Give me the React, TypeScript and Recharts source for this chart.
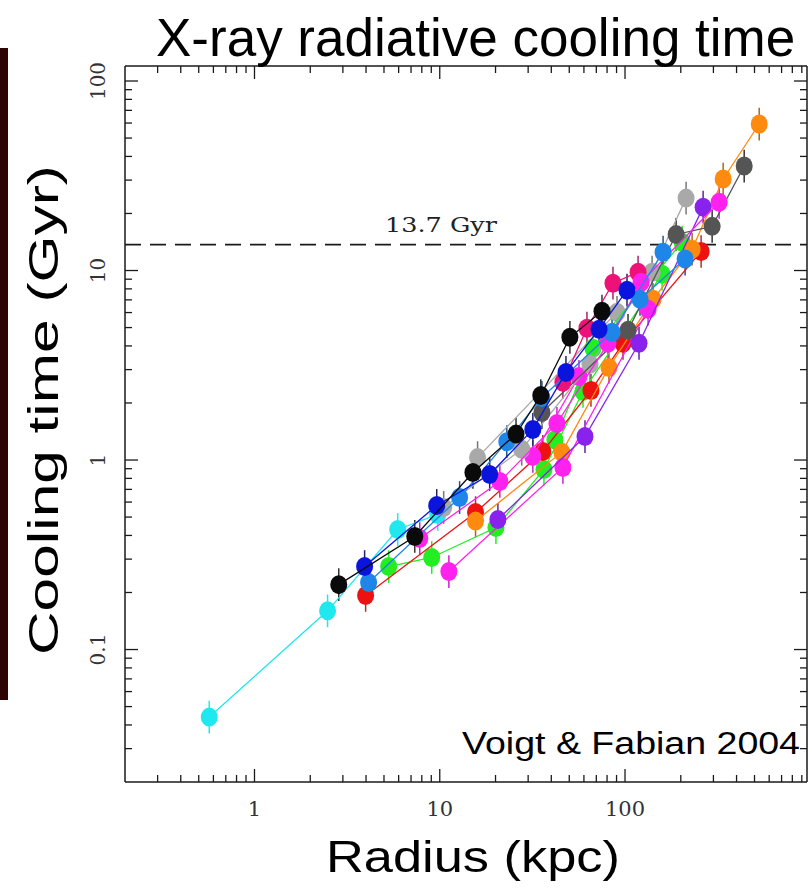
import React from 'react';
import { ScatterChart, Scatter, XAxis, YAxis, ReferenceLine, ErrorBar } from 'recharts';

// ---- axis ticks ----
const xMajorTicks = [1, 10, 100];
const xMinorTicks = [0.3, 0.4, 0.5, 0.6, 0.7, 0.8, 0.9, 2, 3, 4, 5, 6, 7, 8, 9, 20, 30, 40, 50, 60, 70, 80, 90, 200, 300, 400, 500, 600, 700, 800, 900];
const yMajorTicks = [0.1, 1, 10, 100];
const yMinorTicks = [0.03, 0.04, 0.05, 0.06, 0.07, 0.08, 0.09, 0.2, 0.3, 0.4, 0.5, 0.6, 0.7, 0.8, 0.9, 2, 3, 4, 5, 6, 7, 8, 9, 20, 30, 40, 50, 60, 70, 80, 90];
const xTickLabels = ['1', '10', '100'];
const yTickLabels = ['0.1', '1', '10', '100'];
const ageOfUniverse = 13.7;

// ---- data (radius kpc, cooling time Gyr) ----
const cyanPts = [{ r: 0.57, t: 0.044 }, { r: 2.48, t: 0.16 }, { r: 5.93, t: 0.43 }, { r: 9.75, t: 0.516 }];
const blackPts = [{ r: 2.85, t: 0.22 }, { r: 7.33, t: 0.395 }, { r: 15.1, t: 0.86 }, { r: 25.8, t: 1.37 }, { r: 35.1, t: 2.19 }, { r: 50.4, t: 4.44 }, { r: 75.1, t: 6.1 }];
const bluePts = [{ r: 3.93, t: 0.274 }, { r: 9.63, t: 0.576 }, { r: 18.6, t: 0.839 }, { r: 31.8, t: 1.45 }, { r: 48, t: 2.9 }, { r: 72.4, t: 4.9 }, { r: 102.5, t: 7.87 }];
const dodgerPts = [{ r: 4.13, t: 0.226 }, { r: 12.8, t: 0.634 }, { r: 23, t: 1.25 }, { r: 35.6, t: 2.14 }, { r: 85.1, t: 4.72 }, { r: 160.5, t: 12.5 }];
const dodger2Pts = [{ r: 120.5, t: 7.05 }, { r: 211, t: 11.5 }];
const redPts = [{ r: 3.98, t: 0.193 }, { r: 15.6, t: 0.528 }, { r: 36, t: 1.11 }, { r: 65.5, t: 2.33 }, { r: 97.5, t: 4.13 }, { r: 257.5, t: 12.6 }];
const orangePts = [{ r: 15.6, t: 0.476 }, { r: 45.6, t: 1.1 }, { r: 81.9, t: 3.08 }, { r: 141.7, t: 7.05 }, { r: 230.2, t: 12.95 }, { r: 338.6, t: 30.4 }, { r: 530.1, t: 59.3 }];
const greenPts = [{ r: 5.3, t: 0.274 }, { r: 9.05, t: 0.306 }, { r: 20.1, t: 0.44 }, { r: 36.5, t: 0.892 }, { r: 59.3, t: 2.3 }, { r: 158.5, t: 9.56 }];
const green2Pts = [{ r: 41.8, t: 1.28 }, { r: 67.1, t: 3.89 }, { r: 203.3, t: 14.1 }];
const magentaPts = [{ r: 7.8, t: 0.385 }, { r: 21.1, t: 0.771 }, { r: 42.9, t: 1.56 }, { r: 80.9, t: 4.13 }, { r: 122.1, t: 8.67 }, { r: 322.2, t: 22.9 }];
const magenta2Pts = [{ r: 11.2, t: 0.258 }, { r: 46.2, t: 0.914 }, { r: 133.2, t: 6.25 }];
const magenta3Pts = [{ r: 31.8, t: 1.045 }, { r: 56.4, t: 2.76 }];
const pinkPts = [{ r: 46.2, t: 2.57 }, { r: 62.3, t: 4.96 }, { r: 86.1, t: 8.57 }, { r: 117.6, t: 9.8 }];
const grayPts = [{ r: 10.5, t: 0.562 }, { r: 27.7, t: 1.14 }, { r: 64.7, t: 3.2 }, { r: 140, t: 9.8 }, { r: 213.6, t: 24.1 }];
const gray2Pts = [{ r: 16, t: 1.03 }, { r: 90.5, t: 6.02 }];
const darkGrayPts = [{ r: 35.6, t: 1.78 }, { r: 103.8, t: 4.84 }, { r: 188.7, t: 15.5 }, { r: 295.3, t: 17.1 }, { r: 439.8, t: 35.6 }];
const purplePts = [{ r: 20.6, t: 0.486 }, { r: 60.8, t: 1.33 }, { r: 119, t: 4.13 }, { r: 264, t: 21.6 }];

const ERR = 1.22; // relative error (multiplicative)

const seriesList = [
  { name: 'cyan', pts: cyanPts, color: '#20e8ee', bar: '#20e8ee' },
  { name: 'gray2', pts: gray2Pts, color: '#a9a9a9', bar: '#777' },
  { name: 'green', pts: greenPts, color: '#22ee22', bar: '#22ee22' },
  { name: 'green2', pts: green2Pts, color: '#22ee22', bar: '#22ee22' },
  { name: 'red', pts: redPts, color: '#ee1111', bar: '#aa3333' },
  { name: 'orange', pts: orangePts, color: '#ff8a10', bar: '#aa6622' },
  { name: 'magenta2', pts: magenta2Pts, color: '#ff22ee', bar: '#cc22cc' },
  { name: 'magenta3', pts: magenta3Pts, color: '#ff22ee', bar: '#cc22cc' },
  { name: 'purple', pts: purplePts, color: '#8a22ee', bar: '#662299' },
  { name: 'gray', pts: grayPts, color: '#a9a9a9', bar: '#777' },
  { name: 'darkgray', pts: darkGrayPts, color: '#555555', bar: '#333' },
  { name: 'pink', pts: pinkPts, color: '#ee1177', bar: '#aa2266' },
  { name: 'magenta', pts: magentaPts, color: '#ff22ee', bar: '#cc22cc' },
  { name: 'dodger2', pts: dodger2Pts, color: '#1e86e8', bar: '#225588' },
  { name: 'dodger', pts: dodgerPts, color: '#1e86e8', bar: '#225588' },
  { name: 'blue', pts: bluePts, color: '#0a14dc', bar: '#222266' },
  { name: 'black', pts: blackPts, color: '#0a0a0a', bar: '#333' },
];

const tickStroke = '#1a1a1a';
const labelFont = 'DejaVu Serif, serif';

const isMajor = (v: number, majors: number[]) => majors.some((m) => Math.abs(m - v) < 1e-9);

const BottomTick = (p: any) => {
  const v = p.payload.value;
  const major = isMajor(v, xMajorTicks);
  const len = major ? 13 : 7;
  const idx = xMajorTicks.findIndex((m) => Math.abs(m - v) < 1e-9);
  return (
    <g>
      <line x1={p.x} x2={p.x} y1={p.y} y2={p.y - len} stroke={tickStroke} strokeWidth={1.3} />
      {major && (
        <text x={p.x} y={p.y + 34} textAnchor="middle" fontFamily={labelFont} fontSize={21} fill="#333">
          {xTickLabels[idx]}
        </text>
      )}
    </g>
  );
};

const TopTick = (p: any) => {
  const v = p.payload.value;
  const len = isMajor(v, xMajorTicks) ? 13 : 7;
  return <line x1={p.x} x2={p.x} y1={p.y} y2={p.y + len} stroke={tickStroke} strokeWidth={1.3} />;
};

const LeftTick = (p: any) => {
  const v = p.payload.value;
  const major = isMajor(v, yMajorTicks);
  const len = major ? 13 : 7;
  const idx = yMajorTicks.findIndex((m) => Math.abs(m - v) < 1e-9);
  return (
    <g>
      <line x1={p.x} x2={p.x + len} y1={p.y} y2={p.y} stroke={tickStroke} strokeWidth={1.3} />
      {major && (
        <text
          x={p.x - 20}
          y={p.y}
          transform={`rotate(-90 ${p.x - 20} ${p.y})`}
          textAnchor="middle"
          fontFamily={labelFont}
          fontSize={20}
          fill="#333"
        >
          {yTickLabels[idx]}
        </text>
      )}
    </g>
  );
};

const RightTick = (p: any) => {
  const v = p.payload.value;
  const len = isMajor(v, yMajorTicks) ? 13 : 7;
  return <line x1={p.x} x2={p.x - len} y1={p.y} y2={p.y} stroke={tickStroke} strokeWidth={1.3} />;
};

const makeShape = (color: string) => (props: any) => (
  <ellipse cx={props.cx} cy={props.cy} rx={8.5} ry={9.5} fill={color} />
);

const allX = [...xMinorTicks, ...xMajorTicks].sort((a, b) => a - b);
const allY = [...yMinorTicks, ...yMajorTicks].sort((a, b) => a - b);

export default function App() {
  const sansFont = 'Liberation Sans, Arial, sans-serif';
  return (
    <div style={{ position: 'absolute', left: 0, top: 0, width: 812, height: 889, background: '#fff' }}>
      <div style={{ position: 'absolute', left: 0, top: 48, width: 8, height: 652, background: '#2e0404' }} />
      <ScatterChart width={812} height={889} margin={{ top: 65, right: 4, bottom: 47, left: 65 }}>
        <XAxis
          xAxisId="b"
          type="number"
          dataKey="r"
          scale="log"
          domain={[0.2, 960]}
          allowDataOverflow
          orientation="bottom"
          height={60}
          ticks={allX}
          interval={0}
          tickSize={0}
          tickMargin={0}
          tickLine={false}
          axisLine={{ stroke: '#1a1a1a', strokeWidth: 1.5 }}
          tick={BottomTick}
        />
        <XAxis
          xAxisId="t"
          type="number"
          dataKey="r"
          scale="log"
          domain={[0.2, 960]}
          allowDataOverflow
          orientation="top"
          height={1}
          ticks={allX}
          interval={0}
          tickSize={0}
          tickMargin={0}
          tickLine={false}
          axisLine={{ stroke: '#1a1a1a', strokeWidth: 1.5 }}
          tick={TopTick}
        />
        <YAxis
          yAxisId="l"
          type="number"
          dataKey="t"
          scale="log"
          domain={[0.02, 120]}
          allowDataOverflow
          orientation="left"
          width={60}
          ticks={allY}
          interval={0}
          tickSize={0}
          tickMargin={0}
          tickLine={false}
          axisLine={{ stroke: '#1a1a1a', strokeWidth: 1.5 }}
          tick={LeftTick}
        />
        <YAxis
          yAxisId="r"
          type="number"
          dataKey="t"
          scale="log"
          domain={[0.02, 120]}
          allowDataOverflow
          orientation="right"
          width={1}
          ticks={allY}
          interval={0}
          tickSize={0}
          tickMargin={0}
          tickLine={false}
          axisLine={{ stroke: '#1a1a1a', strokeWidth: 1.5 }}
          tick={RightTick}
        />
        <ReferenceLine
          xAxisId="b"
          yAxisId="l"
          y={ageOfUniverse}
          stroke="#1a1a1a"
          strokeWidth={1.6}
          strokeDasharray="16 9"
        />
        {seriesList.map((s) => (
          <Scatter
            key={s.name}
            xAxisId="b"
            yAxisId="l"
            data={s.pts.map((p) => ({ ...p, err: [p.t - p.t / ERR, p.t * ERR - p.t] }))}
            line={{ stroke: s.color, strokeWidth: 1.3 }}
            lineType="joint"
            shape={makeShape(s.color)}
            isAnimationActive={false}
          >
            <ErrorBar dataKey="err" direction="y" width={0} stroke={s.bar} strokeWidth={1.5} />
          </Scatter>
        ))}
      </ScatterChart>
      <svg
        width={812}
        height={889}
        style={{ position: 'absolute', left: 0, top: 0, pointerEvents: 'none' }}
      >
        <text x={156} y={56} fontFamily={sansFont} fontSize={53} fill="#000">
          X-ray radiative cooling time
        </text>
        <text
          x={58}
          y={410}
          transform="rotate(-90 58 410)"
          textAnchor="middle"
          fontFamily={sansFont}
          fontSize={42}
          fill="#000"
          textLength={490}
          lengthAdjust="spacingAndGlyphs"
        >
          Cooling time (Gyr)
        </text>
        <text x={326} y={872} fontFamily={sansFont} fontSize={45} fill="#000" textLength={294} lengthAdjust="spacingAndGlyphs">
          Radius (kpc)
        </text>
        <text x={462} y={754} fontFamily={sansFont} fontSize={31} fill="#000" textLength={338} lengthAdjust="spacingAndGlyphs">
          Voigt &amp; Fabian 2004
        </text>
        <text x={385} y={232} fontFamily={labelFont} fontSize={21} fill="#222" textLength={112} lengthAdjust="spacingAndGlyphs">
          13.7 Gyr
        </text>
      </svg>
    </div>
  );
}
